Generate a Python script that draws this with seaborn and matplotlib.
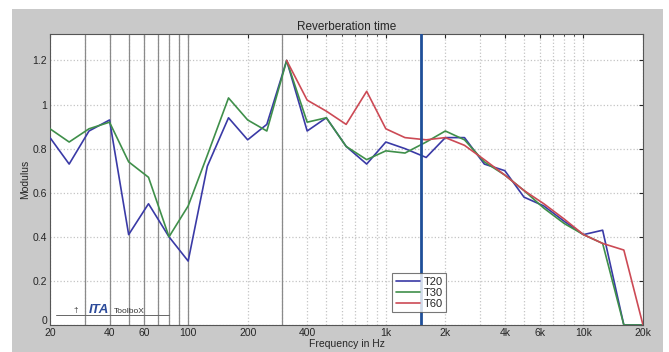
import numpy as np
import pandas as pd
import matplotlib
matplotlib.use("Agg")
import matplotlib.pyplot as plt
import seaborn as sns
from matplotlib.patches import Rectangle
from matplotlib.lines import Line2D
from matplotlib.transforms import ScaledTranslation
from matplotlib.ticker import FixedLocator, NullFormatter

sns.set_style("white")
plt.rcParams['font.family'] = ['Liberation Sans', 'DejaVu Sans']

# third-octave band centre frequencies (Hz)
freqs = [20, 25, 31.5, 40, 50, 63, 80, 100, 125, 160, 200, 250, 315, 400, 500,
         630, 800, 1000, 1250, 1600, 2000, 2500, 3150, 4000, 5000, 6300, 8000,
         10000, 12500, 16000, 20000]

t20 = [0.85, 0.73, 0.88, 0.93, 0.41, 0.55, 0.40, 0.29, 0.72, 0.94, 0.84, 0.91, 1.20, 0.88, 0.94,
       0.81, 0.73, 0.83, 0.80, 0.76, 0.85, 0.85, 0.73, 0.70, 0.58, 0.54, 0.47,
       0.41, 0.43, 0.0, 0.0]
t30 = [0.89, 0.83, 0.89, 0.92, 0.74, 0.67, 0.40, 0.54, 0.77, 1.03, 0.93, 0.88, 1.20, 0.92, 0.94,
       0.81, 0.75, 0.79, 0.78, 0.83, 0.88, 0.84, 0.74, 0.68, 0.61, 0.53, 0.46,
       0.41, 0.37, 0.0, 0.0]
t60 = [np.nan] * 12 + [1.20, 1.02, 0.97,
       0.91, 1.06, 0.89, 0.85, 0.84, 0.85, 0.815, 0.75, 0.68, 0.61, 0.55, 0.48,
       0.41, 0.37, 0.34, 0.0]

series_names = ["T20", "T30", "T60"]
colors = {"T20": "#3a3aa6", "T30": "#3f8f4a", "T60": "#cc4a55"}

xticks = [20, 40, 60, 100, 200, 400, 1000, 2000, 4000, 6000, 10000, 20000]
xticklabels = ["20", "40", "60", "100", "200", "400", "1k", "2k", "4k", "6k", "10k", "20k"]
yticks = [0, 0.2, 0.4, 0.6, 0.8, 1.0, 1.2]
yticklabels = ["0", "0.2", "0.4", "0.6", "0.8", "1", "1.2"]
marker_freq = 1500
dark_grid = [30, 40, 50, 60, 70, 80, 90, 100, 300]

df = pd.DataFrame({
    "freq": freqs * 3,
    "value": t20 + t30 + t60,
    "series": np.repeat(series_names, len(freqs)),
})

fig = plt.figure(figsize=(6.69, 3.52), dpi=100)
fig.patch.set_facecolor("white")
fig.patches.append(Rectangle((12 / 669, 0), 651 / 669, 343 / 352,
                             transform=fig.transFigure, facecolor="#c9c9c9",
                             edgecolor="none", zorder=-1))
ax = fig.add_axes([50 / 669, 27 / 352, 593 / 669, 291 / 352])
ax.set_facecolor("white")

ax.set_xscale("log")
ax.set_xlim(20, 20000)
ax.set_ylim(0, 1.32)

# minor grid (MATLAB style dotted)
minor = [m * 10 ** e for e in range(1, 5) for m in range(2, 10)]
ax.xaxis.set_minor_locator(FixedLocator(minor))
ax.xaxis.set_minor_formatter(NullFormatter())
ax.grid(which="both", axis="x", linestyle=":", color="#c4c4c4", lw=0.9)
ax.grid(which="major", axis="y", linestyle=":", color="#c4c4c4", lw=0.9)
for f in dark_grid:
    ax.axvline(f, color="#8a8a8a", lw=0.9, zorder=1)

sns.lineplot(data=df, x="freq", y="value", hue="series", palette=colors,
             lw=1.2, ax=ax, zorder=3)
ax.axvline(marker_freq, color="#1f4f99", lw=2.0, zorder=4)

ax.set_xticks(xticks)
ax.set_xticklabels(xticklabels)
ax.set_yticks(yticks)
ax.set_yticklabels(yticklabels)
ax.tick_params(axis="both", which="major", direction="in", labelsize=7.5,
               length=3, top=True, right=True, pad=2)
ax.tick_params(axis="x", which="minor", direction="in", length=1.5, top=True)
for s in ax.spines.values():
    s.set_color("#555555")
    s.set_linewidth(0.8)

# lift the "0" label a little so it clears the "20"
zero_lbl = ax.get_yticklabels()[0]
zero_lbl.set_transform(zero_lbl.get_transform()
                       + ScaledTranslation(0, 3.5 / 72, fig.dpi_scale_trans))

ax.set_title("Reverberation time", fontsize=8.5, pad=3)
ax.set_xlabel("Frequency in Hz", fontsize=7.5, labelpad=1)
ax.set_ylabel("Modulus", fontsize=7.5, labelpad=2)

leg = ax.legend(loc="lower left", bbox_to_anchor=(0.568, 0.025), fontsize=8,
                frameon=True, fancybox=False, edgecolor="#555555",
                handlelength=2.2, handletextpad=0.3, borderpad=0.3,
                labelspacing=0.1, title=None)
leg.get_frame().set_linewidth(0.8)

# toolbox logo
ax.add_line(Line2D([0.01, 0.2], [0.035, 0.035], transform=ax.transAxes,
                   color="#666666", lw=0.7, zorder=5))
ax.text(0.04, 0.045, "\u2020", transform=ax.transAxes, fontsize=6,
        color="#333333", zorder=5)
ax.text(0.065, 0.04, "ITA", transform=ax.transAxes, fontsize=9.5,
        fontweight="bold", style="italic", color="#2b4a9a", zorder=5)
ax.text(0.108, 0.042, "ToolboX", transform=ax.transAxes, fontsize=6,
        color="#333333", zorder=5)

fig.savefig("out.png", dpi=100, facecolor=fig.get_facecolor())
